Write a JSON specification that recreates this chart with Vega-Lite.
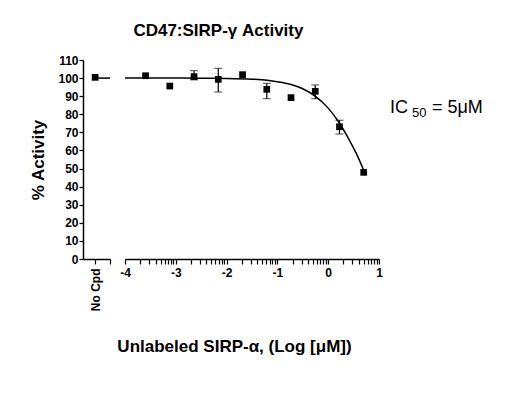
{
  "$schema": "https://vega.github.io/schema/vega-lite/v6.json",
  "padding": {"left": 29, "top": 22, "right": 120, "bottom": 40},
  "background": "white",
  "bounds": "flush",
  "title": {"text": "CD47:SIRP-γ Activity", "font": "Liberation Sans", "fontSize": 17, "fontWeight": "bold", "color": "black", "anchor": "middle", "offset": 14, "dx": -38},
  "config": {
    "view": {"stroke": null},
    "axis": {"grid": false, "domainColor": "black", "tickColor": "black", "domainWidth": 1.5, "tickWidth": 1.2, "labelFont": "Liberation Sans", "labelFontWeight": "bold", "labelFontSize": 12, "labelColor": "black", "titleFont": "Liberation Sans", "titleFontWeight": "bold", "titleFontSize": 17, "titleColor": "black", "labelOverlap": false, "labelFlush": false},
    "axisX": {"labelOverlap": false, "labelFlush": false, "tickSize": 5, "labelPadding": 3}
  },
  "datasets": {
    "pts": [
      {"logc": -3.595, "act": 101.3},
      {"logc": -3.118, "act": 95.6},
      {"logc": -2.641, "act": 100.8},
      {"logc": -2.164, "act": 99.3},
      {"logc": -1.686, "act": 101.9},
      {"logc": -1.209, "act": 93.8},
      {"logc": -0.732, "act": 89.2},
      {"logc": -0.255, "act": 92.7},
      {"logc": 0.222, "act": 73.1},
      {"logc": 0.699, "act": 47.9}
    ],
    "err": [
      {"logc": -2.641, "lo": 99.0, "hi": 104.1},
      {"logc": -2.164, "lo": 92.3, "hi": 105.4},
      {"logc": -1.209, "lo": 88.6, "hi": 97.1},
      {"logc": -0.255, "lo": 88.6, "hi": 96.2},
      {"logc": 0.222, "lo": 69.1, "hi": 76.7}
    ],
    "curve": [
      {"logc": -4.0, "act": 100.0},
      {"logc": -3.5, "act": 100.0},
      {"logc": -3.0, "act": 100.0},
      {"logc": -2.5, "act": 99.9},
      {"logc": -2.0, "act": 99.8},
      {"logc": -1.5, "act": 99.4},
      {"logc": -1.2, "act": 98.8},
      {"logc": -1.0, "act": 98.0},
      {"logc": -0.75, "act": 96.6},
      {"logc": -0.5, "act": 94.1},
      {"logc": -0.25, "act": 89.9},
      {"logc": 0.0, "act": 83.4},
      {"logc": 0.2, "act": 76.0},
      {"logc": 0.4, "act": 66.6},
      {"logc": 0.55, "act": 58.5},
      {"logc": 0.7, "act": 49.0}
    ],
    "nocpd": [
      {"pos": 0.45, "act": 100.4, "kind": "point"},
      {"pos": 0.45, "act": 100.0, "kind": "line"},
      {"pos": 1.0, "act": 100.0, "kind": "line"}
    ]
  },
  "spacing": 15,
  "hconcat": [
    {
      "width": 27,
      "height": 199,
      "data": {"name": "nocpd"},
      "encoding": {
        "x": {"field": "pos", "type": "quantitative", "scale": {"domain": [0, 1], "nice": false, "zero": false},
              "axis": {"values": [0.45, 1], "labelExpr": "datum.value < 0.5 ? 'No Cpd' : ''", "labelAngle": -90, "labelAlign": "right", "labelBaseline": "middle", "tickSize": 5, "labelPadding": 4, "title": null}},
        "y": {"field": "act", "type": "quantitative", "scale": {"domain": [0, 110], "nice": false},
              "axis": {"values": [0,10,20,30,40,50,60,70,80,90,100,110], "labelOverlap": false, "tickSize": 4, "labelPadding": 1, "title": "% Activity", "titlePadding": 10}}
      },
      "layer": [
        {
          "transform": [{"filter": "datum.kind == 'line'"}],
          "mark": {"type": "line", "color": "black", "strokeWidth": 1.5}
        },
        {
          "transform": [{"filter": "datum.kind == 'point'"}],
          "mark": {"type": "point", "shape": "square", "filled": true, "color": "black", "size": 45, "opacity": 1}
        }
      ]
    },
    {
      "width": 254,
      "height": 199,
      "layer": [
        {
          "encoding": {
            "x": {"field": "logc", "type": "quantitative", "scale": {"domain": [-4, 1], "nice": false, "zero": false},
                  "axis": {"orient": "bottom", "labelOverlap": false, "labelFlush": false, "tickSize": 5, "labelPadding": 3,
                           "values": [-4,-3.699,-3.523,-3.398,-3.301,-3.222,-3.155,-3.097,-3.046,-3,-2.699,-2.523,-2.398,-2.301,-2.222,-2.155,-2.097,-2.046,-2,-1.699,-1.523,-1.398,-1.301,-1.222,-1.155,-1.097,-1.046,-1,-0.699,-0.523,-0.398,-0.301,-0.222,-0.155,-0.097,-0.046,0,0.301,0.477,0.602,0.699,0.778,0.845,0.903,0.954,1],
                           "labelExpr": "abs(datum.value - round(datum.value)) < 0.001 ? '' + round(datum.value) : ''",
                           "title": "Unlabeled SIRP-α, (Log [μM])", "titleX": 109, "titleY": 79, "titleBaseline": "top"}},
            "y": {"field": "act", "type": "quantitative", "scale": {"domain": [0, 110], "nice": false}, "axis": null}
          },
          "layer": [
            {
              "data": {"name": "curve"},
              "mark": {"type": "line", "color": "black", "strokeWidth": 1.5, "interpolate": "monotone"}
            },
            {
              "data": {"name": "pts"},
              "mark": {"type": "point", "shape": "square", "filled": true, "color": "black", "size": 45, "opacity": 1}
            },
            {
              "data": {"name": "err"},
              "mark": {"type": "errorbar", "ticks": {"size": 8, "color": "black"}, "color": "black", "rule": {"strokeWidth": 1.2}},
              "encoding": {
                "y": {"field": "lo", "type": "quantitative", "axis": null},
                "y2": {"field": "hi"}
              }
            }
          ]
        },
        {
          "data": {"values": [{}]},
          "encoding": {
            "x": {"datum": 1.216, "type": "quantitative",
                  "axis": {"orient": "bottom", "labelOverlap": false, "labelFlush": false, "tickSize": 5, "labelPadding": 3,
                           "values": [-4,-3.699,-3.523,-3.398,-3.301,-3.222,-3.155,-3.097,-3.046,-3,-2.699,-2.523,-2.398,-2.301,-2.222,-2.155,-2.097,-2.046,-2,-1.699,-1.523,-1.398,-1.301,-1.222,-1.155,-1.097,-1.046,-1,-0.699,-0.523,-0.398,-0.301,-0.222,-0.155,-0.097,-0.046,0,0.301,0.477,0.602,0.699,0.778,0.845,0.903,0.954,1],
                           "labelExpr": "abs(datum.value - round(datum.value)) < 0.001 ? '' + round(datum.value) : ''",
                           "title": "Unlabeled SIRP-α, (Log [μM])", "titleX": 109, "titleY": 79, "titleBaseline": "top"}},
            "y": {"datum": 80.7, "type": "quantitative", "axis": null}
          },
          "layer": [
            {
              "mark": {"type": "text", "font": "Liberation Sans", "fontSize": 18, "align": "left", "baseline": "alphabetic", "color": "black", "clip": false},
              "encoding": {"text": {"value": "IC"}}
            },
            {
              "mark": {"type": "text", "font": "Liberation Sans", "fontSize": 13, "align": "left", "baseline": "alphabetic", "color": "black", "clip": false, "dx": 22, "dy": 4},
              "encoding": {"text": {"value": "50"}}
            },
            {
              "mark": {"type": "text", "font": "Liberation Sans", "fontSize": 18, "align": "left", "baseline": "alphabetic", "color": "black", "clip": false, "dx": 42},
              "encoding": {"text": {"value": "= 5μM"}}
            }
          ]
        }
      ]
    }
  ]
}
